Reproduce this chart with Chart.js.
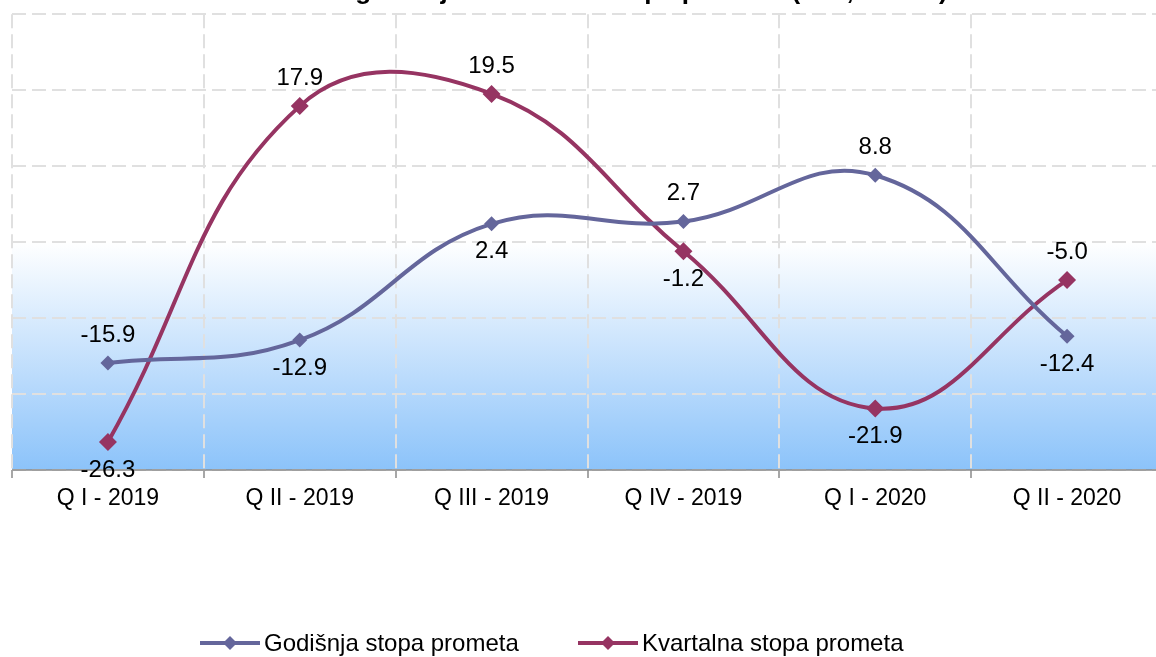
<!DOCTYPE html>
<html>
<head>
<meta charset="utf-8">
<script src="https://cdn.jsdelivr.net/npm/chart.js@4.4.1/dist/chart.umd.min.js"></script>
<style>
  html, body { margin: 0; padding: 0; background: #fff; overflow: hidden; }
  #wrap { position: absolute; left: 0; top: -30px; width: 1172px; height: 687px; }
</style>
</head>
<body>
<div id="wrap"><canvas id="chart"></canvas></div>
<script>
const quarters = ['Q I - 2019', 'Q II - 2019', 'Q III - 2019', 'Q IV - 2019', 'Q I - 2020', 'Q II - 2020']
const godisnja = [-15.9, -12.9, 2.4, 2.7, 8.8, -12.4]
const kvartalna = [-26.3, 17.9, 19.5, -1.2, -21.9, -5.0]

// where the value label sits relative to its point
const godisnjaSide = ['up', 'down', 'down', 'up', 'up', 'down']
const kvartalnaSide = ['down', 'up', 'up', 'down', 'down', 'up']

const FONT = '"Liberation Sans", Arial, sans-serif'
const purple = '#64669b'
const maroon = '#963462'
const gridColor = '#e0e0e0'
const axisColor = '#8a8a8a'

// light blue fade below the zero line
const bandPlugin = {
    id: 'band',
    beforeDraw(chart) {
        const { ctx, chartArea } = chart
        const y0 = chart.scales.y.getPixelForValue(0)
        const grad = ctx.createLinearGradient(0, y0, 0, chartArea.bottom)
        grad.addColorStop(0, '#ffffff')
        grad.addColorStop(1, '#8cc3fa')
        ctx.save()
        ctx.fillStyle = grad
        ctx.fillRect(chartArea.left, y0, chartArea.right - chartArea.left, chartArea.bottom - y0)
        ctx.restore()
    }
}

// solid category axis line (grid lines themselves are dashed)
const axisLine = {
    id: 'axisLine',
    beforeDatasetsDraw(chart) {
        const { ctx, chartArea } = chart
        ctx.save()
        ctx.strokeStyle = axisColor
        ctx.lineWidth = 1.5
        ctx.beginPath()
        ctx.moveTo(chartArea.left, chartArea.bottom)
        ctx.lineTo(chartArea.right, chartArea.bottom)
        ctx.stroke()
        ctx.restore()
    }
}

const valueLabels = {
    id: 'valueLabels',
    afterDatasetsDraw(chart) {
        const ctx = chart.ctx
        ctx.save()
        ctx.font = '24px ' + FONT
        ctx.fillStyle = '#000'
        ctx.textAlign = 'center'
        ctx.textBaseline = 'middle'
        chart.data.datasets.forEach((ds, i) => {
            chart.getDatasetMeta(i).data.forEach((pt, j) => {
                const dy = ds.labelSide[j] === 'up' ? -28 : 28
                ctx.fillText(ds.data[j].toFixed(1), pt.x, pt.y + dy)
            })
        })
        ctx.restore()
    }
}

// legend: line with a diamond, then the series name
const legendPlugin = {
    id: 'lineLegend',
    afterDraw(chart) {
        const ctx = chart.ctx
        const y = 673
        const starts = [200, 578]
        ctx.save()
        ctx.font = '24px ' + FONT
        ctx.textBaseline = 'middle'
        ctx.textAlign = 'left'
        chart.data.datasets.forEach((ds, i) => {
            const x = starts[i]
            ctx.strokeStyle = ds.borderColor
            ctx.fillStyle = ds.borderColor
            ctx.lineWidth = 4
            ctx.beginPath()
            ctx.moveTo(x, y)
            ctx.lineTo(x + 60, y)
            ctx.stroke()
            ctx.beginPath()
            ctx.moveTo(x + 30, y - 7)
            ctx.lineTo(x + 37, y)
            ctx.lineTo(x + 30, y + 7)
            ctx.lineTo(x + 23, y)
            ctx.closePath()
            ctx.fill()
            ctx.fillStyle = '#000'
            ctx.fillText(ds.label, x + 64, y + 1)
        })
        ctx.restore()
    }
}

new Chart(document.getElementById('chart'), {
    type: 'line',
    data: {
        labels: quarters,
        datasets: [
            {
                label: 'Godišnja stopa prometa',
                data: godisnja,
                labelSide: godisnjaSide,
                borderColor: purple,
                backgroundColor: purple,
                borderWidth: 4,
                tension: 0.42,
                pointStyle: 'rectRot',
                pointRadius: 7.5,
                pointBorderWidth: 0
            },
            {
                label: 'Kvartalna stopa prometa',
                data: kvartalna,
                labelSide: kvartalnaSide,
                borderColor: maroon,
                backgroundColor: maroon,
                borderWidth: 4,
                tension: 0.42,
                pointStyle: 'rectRot',
                pointRadius: 9,
                pointBorderWidth: 0
            }
        ]
    },
    options: {
        responsive: true,
        maintainAspectRatio: false,
        animation: false,
        layout: { padding: { left: 12, right: 4, top: 0, bottom: 127 } },
        scales: {
            x: {
                offset: true,
                grid: {
                    offset: true,
                    color: gridColor,
                    lineWidth: 2,
                    tickLength: 8,
                    tickColor: axisColor,
                    tickBorderDash: [],
                    tickWidth: 1.5
                },
                border: { display: false, dash: [14, 6] },
                ticks: {
                    color: '#000',
                    font: { family: FONT, size: 23 },
                    padding: 7,
                    maxRotation: 0
                },
                afterFit(scale) { scale.height = 60 }
            },
            y: {
                min: -30,
                max: 30,
                ticks: { stepSize: 10, display: false },
                grid: {
                    color: gridColor,
                    lineWidth: 2,
                    drawTicks: false
                },
                border: { display: false, dash: [14, 6] }
            }
        },
        plugins: {
            title: {
                display: true,
                text: 'Dinamika godišnje i kvartalne stope prometa (u %, realno)',
                color: '#000',
                font: { family: FONT, size: 26, weight: 'bold' },
                padding: { top: 6, bottom: 7 }
            },
            legend: { display: false },
            tooltip: { enabled: false }
        }
    },
    plugins: [bandPlugin, axisLine, valueLabels, legendPlugin]
})
</script>
</body>
</html>
